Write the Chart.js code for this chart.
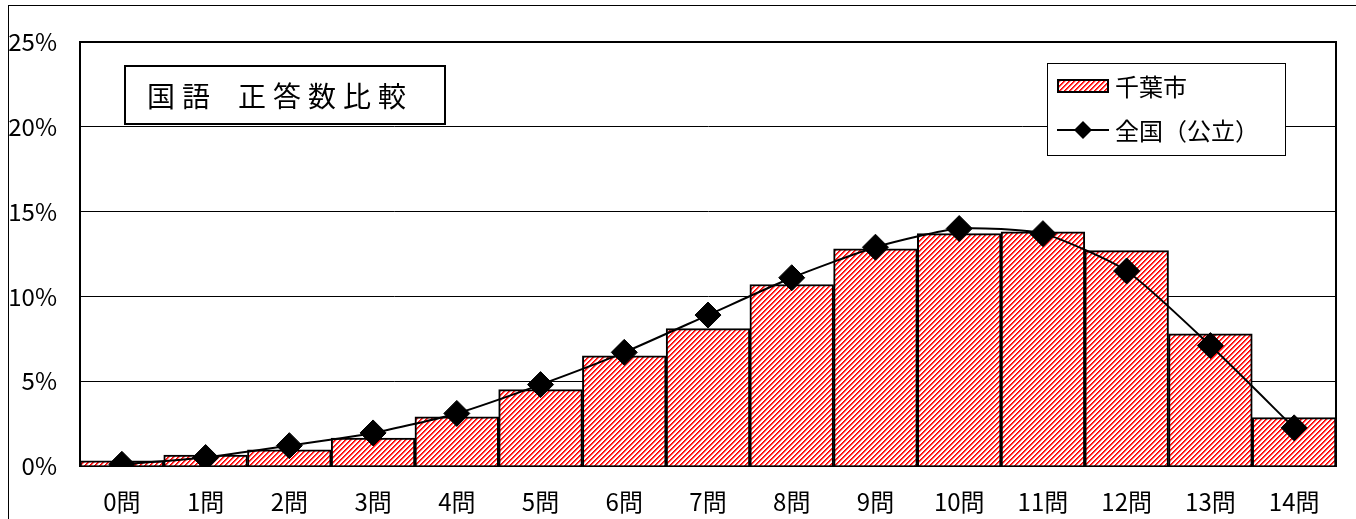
<!DOCTYPE html>
<html>
<head>
<meta charset="utf-8">
<script src="https://cdn.jsdelivr.net/npm/chart.js@4/dist/chart.umd.min.js"></script>
<style>
  html, body { margin: 0; padding: 0; background: #fff; }
  #wrap { width: 1356px; height: 519px; position: relative; }
</style>
</head>
<body>
<div id="wrap"><canvas id="myChart" width="1356" height="519"></canvas></div>
<script>
// 正答数ごとの割合 (%)
const categories = ['0問', '1問', '2問', '3問', '4問', '5問', '6問', '7問', '8問', '9問', '10問', '11問', '12問', '13問', '14問'];
const chibaValues = [0.3, 0.65, 0.95, 1.65, 2.9, 4.5, 6.5, 8.1, 10.7, 12.8, 13.7, 13.8, 12.7, 7.8, 2.85];
const zenkokuValues = [0.1, 0.5, 1.2, 1.95, 3.1, 4.8, 6.7, 8.9, 11.1, 12.9, 14.0, 13.7, 11.5, 7.1, 2.25];
const yTicks = [0, 5, 10, 15, 20, 25];
const seriesLabels = ['千葉市', '全国（公立）'];
const chartTitle = ['国語', '正答数比較'];

const FONT_TICK = '"Noto Sans CJK JP", sans-serif';
const FONT_JP = '"Noto Sans CJK JP", sans-serif';

// 赤の斜線ハッチ
function makeHatch() {
    const n = 5;
    const c = document.createElement('canvas');
    c.width = n; c.height = n;
    const g = c.getContext('2d');
    g.fillStyle = '#ffffff';
    g.fillRect(0, 0, n, n);
    for (let y = 0; y < n; y++) {
        g.fillStyle = '#ff0000';
        g.fillRect(n - 1 - y, y, 1, 1);
        g.fillStyle = '#ff3030';
        g.fillRect((n - y) % n, y, 1, 1);
        g.fillStyle = '#ffb0b0';
        g.fillRect((n + 1 - y) % n, y, 1, 1);
    }
    return g.createPattern(c, 'repeat');
}
const hatch = makeHatch();

const decorPlugin = {
    id: 'decor',
    beforeDatasetsDraw(chart) {
        const a = chart.chartArea;
        const ctx = chart.ctx;
        ctx.save();
        ctx.strokeStyle = '#000';
        ctx.lineWidth = 2;
        ctx.strokeRect(a.left, a.top, a.right - a.left, a.bottom - a.top);
        ctx.restore();
    },
    afterDraw(chart) {
        const ctx = chart.ctx;
        ctx.save();
        // 外枠
        ctx.strokeStyle = '#000';
        ctx.lineWidth = 1;
        ctx.strokeRect(8.5, 5.5, 1400, 600);

        // タイトル
        ctx.fillStyle = '#fff';
        ctx.fillRect(125, 66, 320, 58);
        ctx.lineWidth = 2;
        ctx.strokeRect(125, 66, 320, 58);
        ctx.fillStyle = '#000';
        ctx.font = '28px ' + FONT_JP;
        ctx.textBaseline = 'middle';
        ctx.textAlign = 'left';
        let x = 147;
        for (const ch of chartTitle[0]) { ctx.fillText(ch, x, 96); x += 35; }
        x = 238;
        for (const ch of chartTitle[1]) { ctx.fillText(ch, x, 96); x += 35; }

        // 凡例
        ctx.fillStyle = '#fff';
        ctx.fillRect(1047, 63, 238, 92);
        ctx.lineWidth = 1;
        ctx.strokeStyle = '#000';
        ctx.strokeRect(1047.5, 63.5, 238, 92);

        ctx.fillStyle = hatch;
        ctx.fillRect(1058, 80, 50, 12);
        ctx.lineWidth = 2;
        ctx.strokeRect(1058, 80, 50, 12);

        ctx.beginPath();
        ctx.moveTo(1057, 130);
        ctx.lineTo(1109, 130);
        ctx.stroke();
        ctx.fillStyle = '#000';
        ctx.beginPath();
        ctx.moveTo(1083, 121);
        ctx.lineTo(1092, 130);
        ctx.lineTo(1083, 139);
        ctx.lineTo(1074, 130);
        ctx.closePath();
        ctx.fill();

        ctx.font = '24px ' + FONT_JP;
        ctx.fillText(seriesLabels[0], 1115, 87);
        ctx.fillText(seriesLabels[1], 1115, 131);
        ctx.restore();
    }
};

const ctx = document.getElementById('myChart').getContext('2d');
window.myChart = new Chart(ctx, {
    data: {
        labels: categories,
        datasets: [{
            type: 'line',
            label: seriesLabels[1],
            data: zenkokuValues,
            order: 0,
            borderColor: '#000',
            borderWidth: 2,
            tension: 0.2,
            pointStyle: 'rectRot',
            pointRadius: 13,
            pointBackgroundColor: '#000',
            pointBorderColor: '#000',
            pointBorderWidth: 1
        }, {
            type: 'bar',
            label: seriesLabels[0],
            data: chibaValues,
            order: 1,
            backgroundColor: hatch,
            borderColor: '#000',
            borderWidth: 2,
            barPercentage: 1,
            categoryPercentage: 1
        }]
    },
    options: {
        responsive: false,
        animation: false,
        devicePixelRatio: 1,
        layout: { padding: { top: 42, right: 20, left: 0, bottom: 0 } },
        plugins: { legend: { display: false }, tooltip: { enabled: false } },
        scales: {
            x: {
                grid: { display: false, drawTicks: false },
                border: { display: true, color: '#000', width: 2 },
                ticks: { color: '#000', font: { family: FONT_TICK, size: 24 }, padding: 21, maxRotation: 0, autoSkip: false },
                afterFit: s => { s.height = 53; }
            },
            y: {
                min: 0,
                max: 25,
                afterBuildTicks: s => { s.ticks = yTicks.map(v => ({ value: v })); },
                grid: { color: '#000', lineWidth: 1, drawTicks: false },
                border: { display: true, color: '#000', width: 2 },
                ticks: { color: '#000', font: { family: FONT_TICK, size: 24 }, padding: 23, callback: v => v + '%' },
                afterFit: s => { s.width = 80; }
            }
        }
    },
    plugins: [decorPlugin]
});
</script>
</body>
</html>
